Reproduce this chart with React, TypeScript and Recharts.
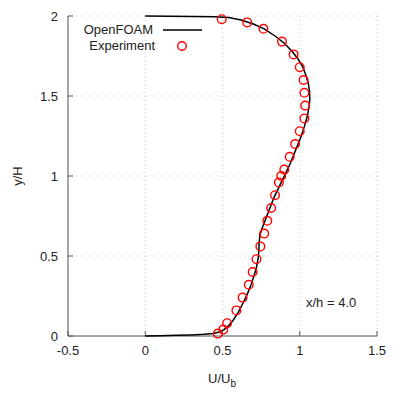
import {
  ScatterChart,
  Scatter,
  XAxis,
  YAxis,
  CartesianGrid,
} from "recharts";

// OpenFOAM profile (U/Ub, y/H), bottom to top
const simU = [
  0, 0.1, 0.2, 0.3, 0.38, 0.44, 0.48, 0.51, 0.54, 0.57, 0.6, 0.63, 0.66, 0.685,
  0.705, 0.72, 0.73, 0.735, 0.737, 0.742, 0.755, 0.775, 0.795, 0.815, 0.835,
  0.86, 0.885, 0.91, 0.935, 0.96, 0.985, 1.01, 1.03, 1.048, 1.06, 1.065, 1.063,
  1.055, 1.04, 1.02, 0.99, 0.95, 0.9, 0.84, 0.77, 0.7, 0.62, 0.54, 0.45, 0.3,
  0.15, 0,
];
const simY = [
  0, 0.002, 0.004, 0.007, 0.011, 0.016, 0.025, 0.04, 0.065, 0.1, 0.145, 0.2,
  0.26, 0.32, 0.38, 0.43, 0.48, 0.53, 0.58, 0.63, 0.67, 0.72, 0.77, 0.82, 0.87,
  0.92, 0.97, 1.02, 1.07, 1.13, 1.19, 1.25, 1.31, 1.37, 1.43, 1.48, 1.53, 1.58,
  1.63, 1.68, 1.73, 1.78, 1.83, 1.875, 1.92, 1.95, 1.975, 1.99, 1.995, 1.997,
  1.998, 2,
];

// Experiment
const expU = [
  0.47, 0.505, 0.53, 0.59, 0.63, 0.67, 0.695, 0.72, 0.745, 0.77, 0.79, 0.815,
  0.84, 0.865, 0.88, 0.9, 0.935, 0.97, 1.0, 1.03, 1.035, 1.03, 1.025, 1.0, 0.96,
  0.885, 0.765, 0.66, 0.495,
];
const expY = [
  0.015, 0.04, 0.08, 0.16, 0.24, 0.32, 0.4, 0.48, 0.56, 0.64, 0.72, 0.8, 0.88,
  0.96, 1.0, 1.04, 1.12, 1.2, 1.28, 1.36, 1.44, 1.52, 1.6, 1.68, 1.76, 1.84,
  1.92, 1.96, 1.98,
];

const xTicks = [-0.5, 0, 0.5, 1, 1.5];
const yTicks = [0, 0.5, 1, 1.5, 2];

const simData = simU.map((u, i) => ({ u, y: simY[i] }));
const expData = expU.map((u, i) => ({ u, y: expY[i] }));

const font = "'Liberation Sans', Arial, sans-serif";
const tickStyle = { fill: "#222", fontSize: 13, fontFamily: font };
const axisColor = "#555";

const Hollow = (props: any) => (
  <circle cx={props.cx} cy={props.cy} r={4.3} fill="none" stroke="#ff0000" strokeWidth={1.4} />
);
const Nothing = () => <g />;

export default function App() {
  return (
    <div style={{ position: "fixed", left: 0, top: 0, width: 400, height: 400, background: "#fff", fontFamily: font }}>
      <ScatterChart
        width={400}
        height={400}
        margin={{ top: 16, right: 23, bottom: 34, left: 8 }}
      >
        <CartesianGrid stroke="#ccc" strokeDasharray="1 3" />
        <XAxis
          type="number"
          dataKey="u"
          domain={[-0.5, 1.5]}
          ticks={xTicks}
          height={30}
          stroke={axisColor}
          tickSize={-5}
          tickMargin={15}
          tick={tickStyle}
          label={{
            content: () => (
              <text x={222} y={383} textAnchor="middle" fill="#222" fontSize={13} fontFamily={font}>
                U/U<tspan fontSize={10} dy={4}>b</tspan>
              </text>
            ),
          }}
        />
        <XAxis
          xAxisId="top"
          orientation="top"
          type="number"
          domain={[-0.5, 1.5]}
          ticks={xTicks}
          height={0}
          stroke={axisColor}
          tickSize={-5}
          tick={Nothing}
        />
        <YAxis
          type="number"
          dataKey="y"
          domain={[0, 2]}
          ticks={yTicks}
          width={60}
          stroke={axisColor}
          tickSize={-5}
          tickMargin={15}
          tick={tickStyle}
          label={{
            content: () => (
              <text
                x={22}
                y={176}
                transform="rotate(-90 22 176)"
                textAnchor="middle"
                fill="#222"
                fontSize={13}
                fontFamily={font}
              >
                y/H
              </text>
            ),
          }}
        />
        <YAxis
          yAxisId="right"
          orientation="right"
          type="number"
          domain={[0, 2]}
          ticks={yTicks}
          width={0}
          stroke={axisColor}
          tickSize={-5}
          tick={Nothing}
        />
        <Scatter
          data={simData}
          line={{ stroke: "#000", strokeWidth: 1.5 }}
          shape={Nothing}
          isAnimationActive={false}
        />
        <Scatter data={expData} shape={Hollow} isAnimationActive={false} />
      </ScatterChart>

      <div style={{ position: "absolute", left: 60, top: 22, width: 150, fontSize: 13, color: "#222", lineHeight: "16px" }}>
        <div style={{ display: "flex", alignItems: "center", height: 16 }}>
          <span style={{ width: 93, textAlign: "right" }}>OpenFOAM</span>
          <svg width={50} height={16}>
            <line x1={10} y1={8} x2={49} y2={8} stroke="#000" strokeWidth={1.5} />
          </svg>
        </div>
        <div style={{ display: "flex", alignItems: "center", height: 16 }}>
          <span style={{ width: 95, textAlign: "right" }}>Experiment</span>
          <svg width={50} height={16}>
            <circle cx={27} cy={8} r={4.3} fill="none" stroke="#ff0000" strokeWidth={1.4} />
          </svg>
        </div>
      </div>

      <div style={{ position: "absolute", left: 306, top: 295, fontSize: 13, color: "#222" }}>
        x/h = 4.0
      </div>
    </div>
  );
}
